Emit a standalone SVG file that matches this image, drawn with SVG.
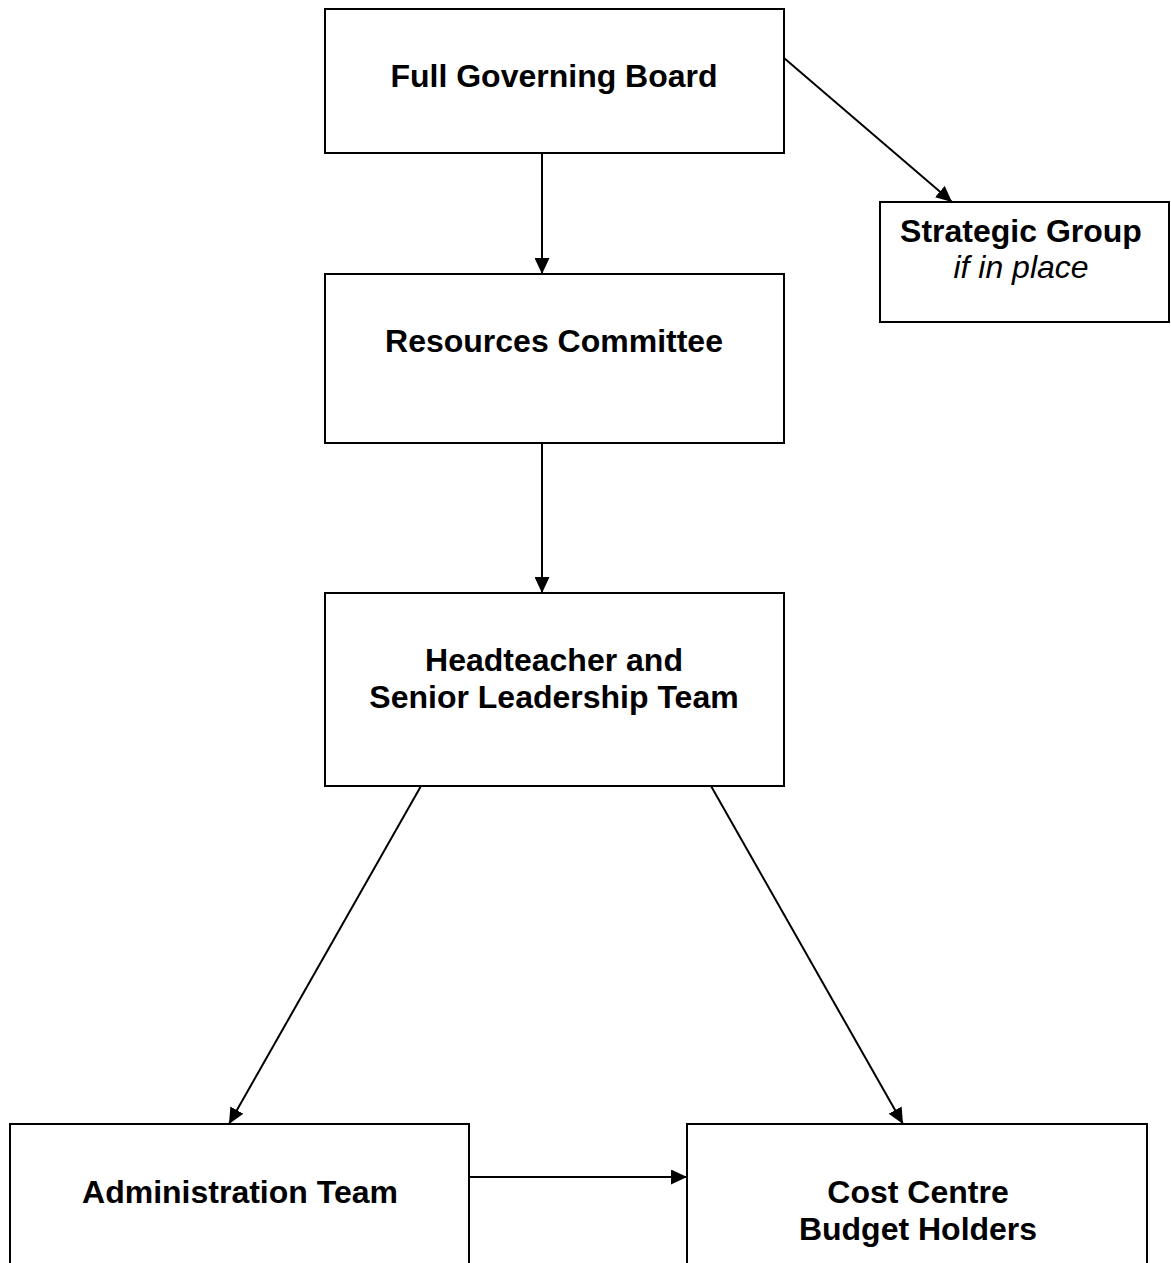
<svg xmlns="http://www.w3.org/2000/svg" width="1171" height="1263" viewBox="0 0 1171 1263">
<style>
.box{fill:#fff;stroke:#000;stroke-width:2}
.lbl{font-family:"Liberation Sans",Arial,sans-serif;font-size:32px;font-weight:bold;text-anchor:middle;fill:#000}
.it{font-family:"Liberation Sans",Arial,sans-serif;font-size:32px;font-style:italic;text-anchor:middle;fill:#000}
.con{stroke:#000;stroke-width:2;fill:none;marker-end:url(#ah)}
</style>
<defs>
<marker id="ah" markerUnits="userSpaceOnUse" markerWidth="16" markerHeight="15" refX="16" refY="7.5" orient="auto">
<path d="M0,0 L16,7.5 L0,15 z" fill="#000"/>
</marker>
</defs>
<rect width="1171" height="1263" fill="#fff"/>
<g id="connectors">
<line class="con" x1="542" y1="153" x2="542" y2="274"/>
<line class="con" x1="784" y1="58" x2="952" y2="202"/>
<line class="con" x1="542" y1="443" x2="542" y2="593"/>
<line class="con" x1="421" y1="786" x2="229" y2="1124"/>
<line class="con" x1="711" y1="786" x2="903" y2="1124"/>
<line class="con" x1="469" y1="1177" x2="687" y2="1177"/>
</g>
<g id="full-governing-board">
<rect class="box" x="325" y="9" width="459" height="144"/>
<text class="lbl" x="554" y="87">Full Governing Board</text>
</g>
<g id="strategic-group">
<rect class="box" x="880" y="202" width="289" height="120"/>
<text class="lbl" x="1021" y="242">Strategic Group</text>
<text class="it" x="1021" y="278">if in place</text>
</g>
<g id="resources-committee">
<rect class="box" x="325" y="274" width="459" height="169"/>
<text class="lbl" x="554" y="352">Resources Committee</text>
</g>
<g id="headteacher-slt">
<rect class="box" x="325" y="593" width="459" height="193"/>
<text class="lbl" x="554" y="671">Headteacher and</text>
<text class="lbl" x="554" y="708">Senior Leadership Team</text>
</g>
<g id="administration-team">
<rect class="box" x="10" y="1124" width="459" height="160"/>
<text class="lbl" x="240" y="1203">Administration Team</text>
</g>
<g id="cost-centre">
<rect class="box" x="687" y="1124" width="460" height="160"/>
<text class="lbl" x="918" y="1203">Cost Centre</text>
<text class="lbl" x="918" y="1240">Budget Holders</text>
</g>
</svg>
